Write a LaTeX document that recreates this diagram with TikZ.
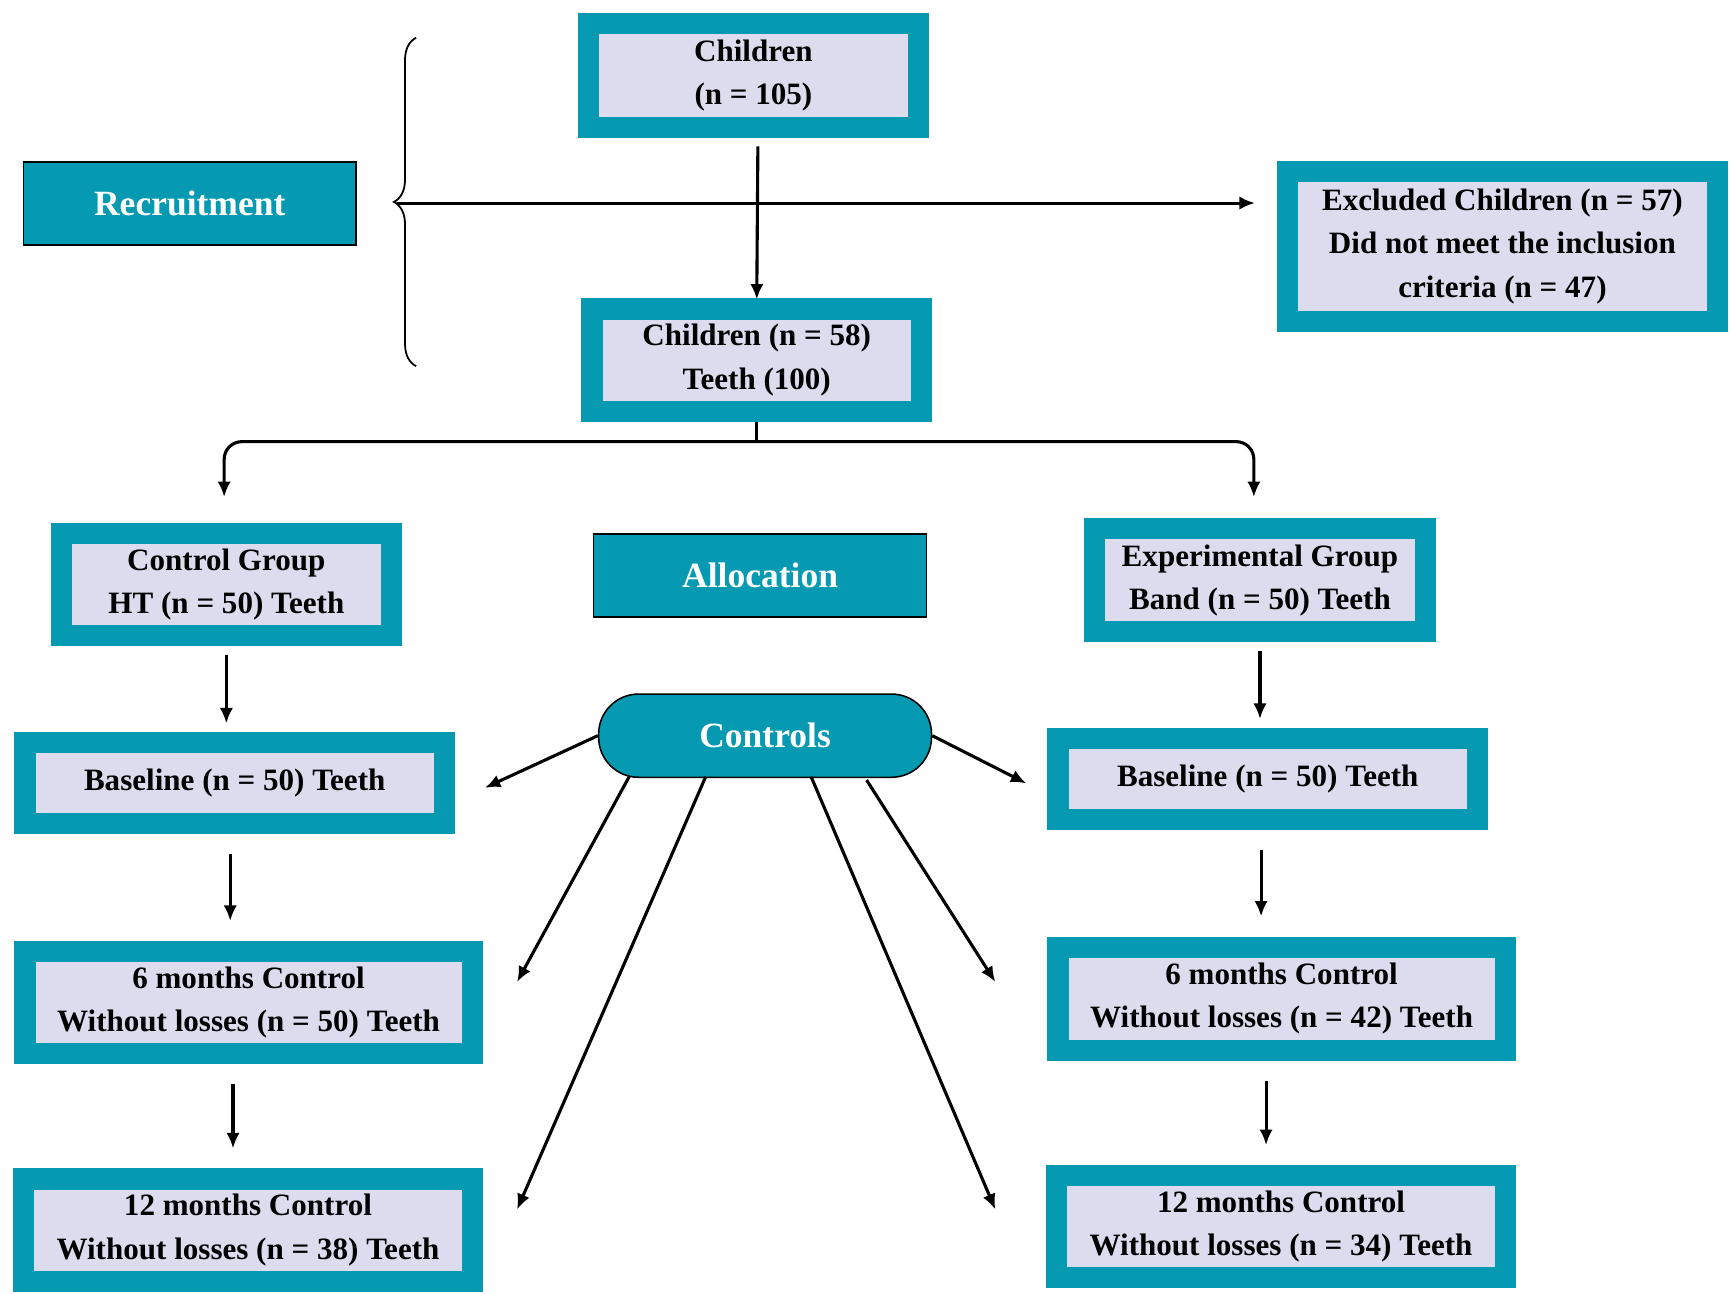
\documentclass[tikz,border=0pt]{standalone}
\usepackage{fontspec}
\setmainfont{Liberation Serif}
\usetikzlibrary{arrows.meta,decorations.pathreplacing}
\definecolor{tealbox}{HTML}{0599B2}
\definecolor{lavbox}{HTML}{DCDCEE}
\tikzset{
  flowbox/.style={draw=tealbox, line width=9.5pt, fill=lavbox, align=center, inner sep=0pt,
    font=\fontsize{14}{19.5}\selectfont\bfseries},
  phase/.style={draw=black, line width=0.7pt, fill=tealbox, text=white, align=center,
    minimum width=150pt, minimum height=37.5pt, font=\fontsize{16}{19}\selectfont\bfseries},
  arr/.style={-{Latex[length=7pt,width=6pt]}, line width=1.4pt},
}
\begin{document}
\begin{tikzpicture}[x=0.5pt,y=-0.5pt]
\useasboundingbox (0,0) rectangle (1560,1166);
% boxes
\node[flowbox, minimum width=148.5pt, minimum height=46.5pt] (kids) at (679,68) {Children\\(n = 105)};
\node[flowbox, minimum width=148.5pt, minimum height=46pt] (incl) at (682,324.5) {Children (n = 58)\\Teeth (100)};
\node[flowbox, minimum width=193.5pt, minimum height=67.5pt] (excl) at (1354,222) {Excluded Children (n = 57)\\Did not meet the inclusion\\criteria (n = 47)};
\node[flowbox, minimum width=148.5pt, minimum height=46pt] (ctrl) at (204,526.5) {Control Group\\HT (n = 50) Teeth};
\node[flowbox, minimum width=149pt, minimum height=46.5pt] (expt) at (1135.5,523) {Experimental Group\\Band (n = 50) Teeth};
\node[flowbox, minimum width=189pt, minimum height=36.5pt] (baseL) at (211.5,706) {Baseline (n = 50) Teeth};
\node[flowbox, minimum width=189pt, minimum height=36.5pt] (baseR) at (1142.5,702) {Baseline (n = 50) Teeth};
\node[flowbox, minimum width=201.5pt, minimum height=46pt] (sixL) at (224,903.5) {6 months Control\\Without losses (n = 50) Teeth};
\node[flowbox, minimum width=201.5pt, minimum height=46.5pt] (sixR) at (1155,900) {6 months Control\\Without losses (n = 42) Teeth};
\node[flowbox, minimum width=202pt, minimum height=46pt] (twL) at (223.5,1108.5) {12 months Control\\Without losses (n = 38) Teeth};
\node[flowbox, minimum width=202pt, minimum height=46pt] (twR) at (1154.5,1105.5) {12 months Control\\Without losses (n = 34) Teeth};
% phase labels
\node[phase] (recr) at (171,183.5) {Recruitment};
\node[phase] (alloc) at (685,518.5) {Allocation};
\node[phase, rounded corners=18pt] (ctls) at (689.5,663) {Controls};
% recruitment brace and arrows
\draw[line width=0.8pt, decoration={brace, amplitude=10pt}, decorate] (375,330) -- (375,34);
\coordinate (tip) at (358,183);
\draw[arr] (tip) -- (1131,183);
\draw[arr] (kids.south) ++(4,8) -- ([yshift=-0.5pt]incl.north);
% split to the groups
\coordinate (split) at (682,398);
\coordinate (toL) at (202,448);
\coordinate (toR) at (1130,448);
\draw[line width=1.4pt] (incl.south) -- (split);
\draw[arr, rounded corners=8pt] (split) -| (toL);
\draw[arr, rounded corners=8pt] (split) -| (toR);
% columns
\draw[arr, shorten <=4pt, shorten >=4pt] (ctrl.south) -- (baseL.north -| ctrl.south);
\draw[arr, shorten <=9pt, shorten >=9pt] ([xshift=-2pt]baseL.south) -- ([xshift=-2pt]sixL.north -| baseL.south);
\draw[arr, shorten <=9pt, shorten >=9pt] ([xshift=-7pt]sixL.south) -- ([xshift=-7pt]twL.north -| sixL.south);
\draw[arr, shorten <=4pt, shorten >=4pt] (expt.south) -- (baseR.north -| expt.south);
\draw[arr, shorten <=9pt, shorten >=9pt] ([xshift=-3pt]baseR.south) -- ([xshift=-3pt]sixR.north -| baseR.south);
\draw[arr, shorten <=9pt, shorten >=9pt] ([xshift=-7pt]sixR.south) -- ([xshift=-7pt]twR.north -| sixR.south);
% controls fan
\coordinate (fL1) at (437,710);
\coordinate (fR1) at (925,706);
\coordinate (fL2) at (466,885);
\coordinate (fL3) at (466,1090);
\coordinate (fR2) at (897,885);
\coordinate (fR3) at (897,1090);
\draw[arr] (ctls.west) -- (fL1);
\draw[arr] (ctls.east) -- (fR1);
\draw[arr] (567,700) -- (fL2);
\draw[arr] (636,700) -- (fL3);
\draw[arr] (731,700) -- (fR3);
\draw[arr] (781,703) -- (fR2);
\end{tikzpicture}
\end{document}
